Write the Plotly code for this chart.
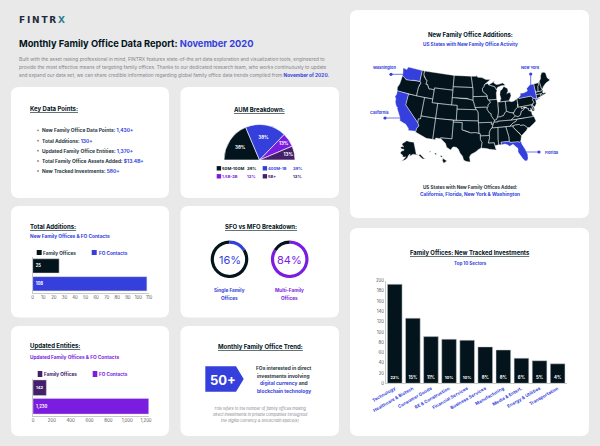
import math
import plotly.graph_objects as go

W, H = 600, 446
DARK = "#03141c"; BLUE = "#343fdc"; PURPLE = "#7a1de0"; DPURPLE = "#44206a"; BG = "#e9e9e9"; GRAY = "#85858b"
FONT = "Inter"

new_states = ["CA","FL","NY","WA"]
state_lonlat = {
"WA":[(-124.7,48.4),(-123.1,48.2),(-122.8,49.0),(-117.03,49.0),(-117.04,46.0),(-118.98,46.0),(-119.3,45.93),(-120.5,45.7),(-121.2,45.65),(-122.3,45.55),(-122.8,45.9),(-123.4,46.2),(-124.0,46.27),(-124.1,46.9)],
"OR":[(-124.0,46.27),(-123.4,46.2),(-122.8,45.9),(-122.3,45.55),(-121.2,45.65),(-120.5,45.7),(-119.3,45.93),(-118.98,46.0),(-116.92,46.0),(-116.46,45.6),(-116.85,45.0),(-117.03,44.2),(-117.03,42.0),(-124.2,42.0),(-124.55,42.85),(-124.1,44.0),(-123.95,45.5)],
"CA":[(-124.2,42.0),(-120.0,42.0),(-120.0,39.0),(-114.63,35.0),(-114.14,34.3),(-114.72,33.4),(-114.72,32.72),(-117.12,32.53),(-117.3,33.1),(-118.4,33.75),(-118.5,34.03),(-119.2,34.15),(-120.6,34.55),(-120.65,35.15),(-121.9,36.6),(-122.5,37.5),(-122.5,37.8),(-123.0,38.0),(-123.75,39.0),(-123.85,39.8),(-124.4,40.4),(-124.1,41.0)],
"NV":[(-120,42),(-114.04,42),(-114.04,36.2),(-114.74,36.1),(-114.63,35.0),(-120,39)],
"ID":[(-117.03,49),(-116.05,49),(-116.05,48.0),(-115.7,47.45),(-114.7,46.7),(-114.35,46.65),(-114.5,45.55),(-113.9,45.65),(-113.45,44.95),(-113.0,44.45),(-112.3,44.55),(-111.5,44.55),(-111.05,44.48),(-111.05,42),(-117.03,42),(-117.03,44.2),(-116.85,45.0),(-116.46,45.6),(-116.92,46.0),(-117.04,46.4)],
"MT":[(-116.05,49),(-104.05,49),(-104.05,45),(-111.05,45),(-111.05,44.48),(-111.5,44.55),(-112.3,44.55),(-113.0,44.45),(-113.45,44.95),(-113.9,45.65),(-114.5,45.55),(-114.35,46.65),(-114.7,46.7),(-115.7,47.45),(-116.05,48.0)],
"WY":[(-111.05,45),(-104.05,45),(-104.05,41),(-111.05,41)],
"UT":[(-114.04,42),(-111.05,42),(-111.05,41),(-109.05,41),(-109.05,37),(-114.04,37)],
"CO":[(-109.05,41),(-102.05,41),(-102.05,37),(-109.05,37)],
"AZ":[(-114.04,37),(-109.05,37),(-109.05,31.33),(-111.07,31.33),(-114.81,32.5),(-114.72,32.72),(-114.72,33.4),(-114.14,34.3),(-114.63,35.0),(-114.74,36.1),(-114.04,36.2)],
"NM":[(-109.05,37),(-103.0,37),(-103.04,32),(-106.62,32),(-106.53,31.78),(-108.2,31.78),(-108.2,31.33),(-109.05,31.33)],
"ND":[(-104.05,49),(-97.23,49),(-96.85,47.5),(-96.56,45.94),(-104.05,45.94)],
"SD":[(-104.05,45.94),(-96.56,45.94),(-96.45,45.3),(-96.45,43.5),(-96.44,42.5),(-97.9,42.8),(-98.5,43.0),(-104.05,43)],
"NE":[(-104.05,43),(-98.5,43),(-97.9,42.8),(-96.44,42.5),(-96.1,41.7),(-95.85,40.7),(-95.31,40),(-102.05,40),(-102.05,41),(-104.05,41)],
"KS":[(-102.05,40),(-95.31,40),(-94.9,39.75),(-94.61,39.1),(-94.62,37),(-102.05,37)],
"OK":[(-103,37),(-94.62,37),(-94.43,35.4),(-94.48,33.64),(-95.5,33.9),(-97.1,33.8),(-98.1,34.13),(-99.2,34.3),(-100,34.56),(-100,36.5),(-103,36.5)],
"TX":[(-106.62,32),(-103.04,32),(-103,36.5),(-100,36.5),(-100,34.56),(-99.2,34.3),(-98.1,34.13),(-97.1,33.8),(-95.5,33.9),(-94.48,33.64),(-94.04,33.55),(-94.04,33.0),(-94.04,32.0),(-93.55,31.2),(-93.7,30.3),(-93.85,29.7),(-94.7,29.35),(-95.6,28.7),(-97.0,28.0),(-97.4,27.3),(-97.15,25.96),(-98.2,26.05),(-99.1,26.4),(-99.5,27.5),(-100.3,28.3),(-100.8,29.25),(-101.4,29.77),(-102.3,29.88),(-102.7,29.7),(-103.15,28.98),(-104.5,29.65),(-104.9,30.6),(-106.53,31.78)],
"MN":[(-97.23,49),(-95.15,49),(-95.15,49.38),(-94.6,48.72),(-92.9,48.6),(-91.4,48.05),(-89.6,48.0),(-92.0,46.7),(-92.3,46.1),(-92.9,45.6),(-92.75,44.75),(-91.25,43.85),(-91.22,43.5),(-96.45,43.5),(-96.45,45.3),(-96.56,45.94),(-96.85,47.5)],
"IA":[(-96.45,43.5),(-91.22,43.5),(-91.1,42.7),(-90.65,42.5),(-90.15,41.8),(-91.1,41.2),(-91.1,40.7),(-91.42,40.38),(-91.73,40.61),(-95.77,40.58),(-96.1,41.7),(-96.44,42.5)],
"MO":[(-95.77,40.58),(-91.73,40.61),(-91.42,40.38),(-91.5,40.0),(-90.7,39.0),(-90.15,38.8),(-90.2,38.3),(-89.5,37.3),(-89.15,37.0),(-89.4,36.5),(-89.7,36.0),(-90.37,36.0),(-90.15,36.5),(-94.62,36.5),(-94.62,37),(-94.61,39.1),(-94.9,39.75),(-95.31,40)],
"AR":[(-94.62,36.5),(-90.15,36.5),(-90.37,36.0),(-89.7,36.0),(-90.1,35.1),(-90.6,34.7),(-91.1,33.9),(-91.17,33.0),(-94.04,33.0),(-94.04,33.55),(-94.48,33.64),(-94.43,35.4)],
"LA":[(-94.04,33.0),(-91.17,33.0),(-91.1,32.4),(-91.6,31.0),(-89.73,31.0),(-89.6,30.18),(-89.4,30.05),(-89.4,29.3),(-89.1,29.0),(-90.2,29.1),(-91.3,29.3),(-92.2,29.55),(-93.85,29.7),(-93.7,30.3),(-93.55,31.2),(-94.04,32.0)],
"WI":[(-92.0,46.7),(-90.9,46.95),(-90.4,46.55),(-89.1,46.13),(-88.1,45.9),(-87.6,45.1),(-87.4,44.9),(-87.75,44.2),(-87.8,42.5),(-90.65,42.5),(-91.1,42.7),(-91.22,43.5),(-91.25,43.85),(-92.75,44.75),(-92.9,45.6),(-92.3,46.1)],
"IL":[(-90.65,42.5),(-87.8,42.5),(-87.53,41.7),(-87.53,39.35),(-87.6,38.7),(-88.05,37.8),(-88.45,37.15),(-89.15,37.0),(-89.5,37.3),(-90.2,38.3),(-90.15,38.8),(-90.7,39.0),(-91.5,40.0),(-91.42,40.38),(-91.1,40.7),(-91.1,41.2),(-90.15,41.8)],
"IN":[(-87.53,41.7),(-87.2,41.76),(-86.8,41.76),(-84.8,41.76),(-84.8,39.1),(-85.4,38.7),(-86.0,38.0),(-86.5,37.95),(-87.1,37.8),(-88.05,37.8),(-87.6,38.7),(-87.53,39.35)],
"MI":[(-86.8,41.76),(-84.8,41.76),(-83.45,41.73),(-83.1,42.2),(-82.45,43.0),(-82.6,43.9),(-83.4,43.95),(-83.9,43.7),(-83.3,44.4),(-83.4,45.1),(-84.7,45.78),(-85.5,45.0),(-86.2,44.7),(-86.5,43.7),(-86.25,42.6)],
"MIU":[(-90.4,46.55),(-89.1,46.13),(-88.1,45.9),(-87.6,45.1),(-87.0,45.75),(-85.6,46.05),(-84.7,45.95),(-84.0,46.0),(-84.6,46.5),(-85.0,46.75),(-86.5,46.5),(-87.5,46.5),(-88.4,47.0),(-88.0,47.45),(-89.5,46.85)],
"OH":[(-84.8,41.76),(-83.45,41.73),(-82.7,41.45),(-81.7,41.5),(-80.52,41.98),(-80.52,40.64),(-80.85,39.7),(-81.7,39.2),(-82.2,38.6),(-82.6,38.45),(-83.7,38.65),(-84.8,39.1)],
"KY":[(-89.4,36.5),(-88.05,36.5),(-88.05,36.68),(-83.67,36.6),(-81.97,37.54),(-82.6,38.17),(-82.6,38.45),(-83.7,38.65),(-84.8,39.1),(-85.4,38.7),(-86.0,38.0),(-86.5,37.95),(-87.1,37.8),(-88.05,37.8),(-88.45,37.15),(-89.15,37.0)],
"TN":[(-89.7,36.0),(-89.4,36.5),(-88.05,36.5),(-88.05,36.68),(-83.67,36.6),(-81.68,36.59),(-82.0,36.1),(-83.1,35.75),(-84.32,35.0),(-90.1,35.0)],
"MS":[(-90.1,35.0),(-88.2,35.0),(-88.47,31.9),(-88.4,30.35),(-89.6,30.18),(-89.73,31.0),(-91.6,31.0),(-91.1,32.4),(-91.17,33.0),(-91.1,33.9),(-90.6,34.7)],
"AL":[(-88.2,35),(-85.6,35),(-85.0,32.3),(-85.0,31.0),(-87.6,31.0),(-87.5,30.3),(-88.4,30.35),(-88.47,31.9)],
"GA":[(-85.6,35),(-83.1,35),(-83.35,34.7),(-81.4,32.7),(-81.0,32.05),(-81.45,30.7),(-82.05,30.35),(-82.2,30.57),(-84.86,30.7),(-85.0,31.0),(-85.0,32.3)],
"FL":[(-87.6,31.0),(-85.0,31.0),(-84.86,30.7),(-82.2,30.57),(-82.05,30.35),(-81.45,30.7),(-81.25,29.8),(-80.55,28.4),(-80.03,26.8),(-80.15,25.7),(-80.45,25.2),(-81.1,25.15),(-81.75,26.0),(-82.2,26.9),(-82.8,27.85),(-82.65,28.8),(-83.4,29.5),(-84.0,30.1),(-85.1,29.65),(-85.7,30.15),(-86.4,30.4),(-87.5,30.3)],
"SC":[(-83.35,34.7),(-83.1,35),(-82.3,35.2),(-81.05,35.1),(-80.8,34.82),(-79.67,34.8),(-78.55,33.86),(-79.2,33.2),(-81.0,32.05),(-81.4,32.7)],
"NC":[(-84.32,35.0),(-83.1,35.75),(-82.0,36.1),(-81.68,36.59),(-75.87,36.55),(-75.5,35.25),(-76.5,34.65),(-77.9,33.9),(-78.55,33.86),(-79.67,34.8),(-80.8,34.82),(-81.05,35.1),(-82.3,35.2),(-83.1,35)],
"VA":[(-83.67,36.6),(-81.68,36.59),(-75.87,36.55),(-76.3,37.0),(-76.3,37.9),(-77.0,38.3),(-77.3,38.5),(-77.05,38.85),(-77.5,39.1),(-77.83,39.13),(-78.35,39.4),(-78.87,38.77),(-79.65,38.58),(-80.3,37.5),(-81.2,37.25),(-81.97,37.54)],
"WV":[(-81.97,37.54),(-81.2,37.25),(-80.3,37.5),(-79.65,38.58),(-78.87,38.77),(-78.35,39.4),(-77.83,39.13),(-77.72,39.32),(-79.48,39.2),(-79.48,39.72),(-80.52,39.72),(-80.52,40.64),(-80.85,39.7),(-81.7,39.2),(-82.2,38.6),(-82.6,38.17)],
"PA":[(-80.52,41.98),(-79.76,42.27),(-79.76,42.0),(-75.35,42.0),(-74.7,41.35),(-75.1,40.95),(-74.75,40.2),(-75.42,39.8),(-75.79,39.72),(-80.52,39.72)],
"NY":[(-79.76,42.27),(-79.05,42.7),(-79.05,43.27),(-77.5,43.25),(-76.2,43.55),(-76.3,44.2),(-75.0,44.95),(-74.7,45.0),(-73.35,45.0),(-73.4,43.6),(-73.25,42.75),(-73.5,42.05),(-73.5,41.3),(-73.65,41.0),(-72.0,41.05),(-73.9,40.55),(-74.0,40.7),(-73.9,41.0),(-74.7,41.35),(-75.35,42.0),(-79.76,42.0)],
"NJ":[(-74.7,41.35),(-73.9,41.0),(-74.0,40.5),(-74.1,39.7),(-74.9,38.95),(-75.5,39.5),(-75.42,39.8),(-74.75,40.2),(-75.1,40.95)],
"DE":[(-75.79,39.72),(-75.42,39.8),(-75.5,39.5),(-75.05,38.45),(-75.7,38.45)],
"MD":[(-79.48,39.72),(-75.79,39.72),(-75.7,38.45),(-75.05,38.45),(-75.25,38.03),(-75.9,37.95),(-76.3,38.9),(-76.45,38.3),(-77.0,38.3),(-77.3,38.5),(-77.05,38.85),(-77.5,39.1),(-77.83,39.13),(-78.35,39.4),(-79.48,39.2)],
"CT":[(-73.5,42.05),(-71.8,42.02),(-71.85,41.32),(-73.65,41.0),(-73.5,41.3)],
"RI":[(-71.8,42.02),(-71.38,42.02),(-71.15,41.5),(-71.85,41.32)],
"MA":[(-73.5,42.05),(-73.25,42.75),(-71.3,42.7),(-70.8,42.85),(-70.6,42.6),(-71.0,42.3),(-70.6,41.95),(-70.0,42.05),(-69.95,41.7),(-71.15,41.5),(-71.38,42.02)],
"VT":[(-73.35,45),(-71.5,45),(-71.55,44.55),(-72.05,44.1),(-72.45,42.73),(-73.25,42.75),(-73.4,43.6)],
"NH":[(-71.5,45.0),(-71.08,45.3),(-70.98,43.4),(-70.7,43.07),(-70.8,42.85),(-71.3,42.7),(-72.45,42.73),(-72.05,44.1),(-71.55,44.55)],
"ME":[(-71.08,45.3),(-70.3,45.9),(-70.0,46.7),(-69.2,47.45),(-68.3,47.35),(-67.8,47.05),(-67.8,45.7),(-67.0,44.85),(-68.8,44.4),(-70.0,43.75),(-70.7,43.07),(-70.98,43.4)],
}
alaska_lonlat = [(-141,69.65),(-141,60.3),(-139.5,59.8),(-137.5,58.9),(-135.5,59.7),(-134,58.1),(-132,56.0),(-130.0,55.0),(-131.5,55.0),(-133.5,55.5),(-135.5,57.0),(-136.5,58.2),(-139.5,59.5),(-143,60.0),(-146,60.7),(-148.5,60.0),(-151.5,59.3),(-150.3,61.0),(-152.5,60.3),(-154,59.0),(-154.5,58.1),(-157,56.7),(-160,55.6),(-163.5,54.7),(-161,56.0),(-158,57.7),(-157,58.8),(-159,58.6),(-162,58.7),(-162,60.0),(-165,60.5),(-166,61.7),(-164.5,63.0),(-161,63.5),(-161,64.5),(-165,64.5),(-168,65.6),(-164,66.5),(-162,66.2),(-163.5,67.1),(-166.5,68.3),(-163,69.5),(-156.5,71.3),(-150,70.5),(-145,70.0)]
hawaii_lonlat = [
    [(-155.9,20.25),(-155.0,19.8),(-154.8,19.5),(-155.7,18.95),(-156.05,19.7)],
    [(-156.7,20.95),(-156.25,20.95),(-156.0,20.7),(-156.4,20.58)],
    [(-158.3,21.55),(-157.95,21.7),(-157.65,21.3),(-158.1,21.3)],
    [(-159.8,22.1),(-159.4,22.2),(-159.35,21.95),(-159.6,21.9)],
]

aum_labels = ["50M-100M","400M-1B","1.5B-2B","5B+"]
aum_values = [38,38,13,13]
aum_hidden = 102
sfo_values = [16,84]
mfo_values = [84,16]

add_names = ["Family Offices","FO Contacts"]
add_values = [25,108]
upd_names = ["Family Offices","FO Contacts"]
upd_values = [142,1230]
upd_labels = ["142","1,230"]

sectors = ["Technology","Healthcare & Biotech","Consumer Goods","RE & Construction","Financial Services","Business Services","Manufacturing","Media & Entert.","Energy & Utilities","Transportation"]
sector_values = [193,127,91,86,84,71,65,49,44,38]
sector_pct = ["23%","15%","11%","10%","10%","8%","8%","6%","5%","4%"]

def px(x): return x / W
def py(y): return 1 - y / H

# Albers conic projection (same composite arrangement as the usual US map)
def albers(pts, lam0, clon, clat, p1, p2, scale=1.0, dx=0.0, dy=0.0):
    r = math.radians
    n = (math.sin(r(p1)) + math.sin(r(p2))) / 2
    c = math.cos(r(p1))**2 + 2*n*math.sin(r(p1))
    rho0 = math.sqrt(c - 2*n*math.sin(r(clat))) / n
    def one(lon, lat):
        rho = math.sqrt(c - 2*n*math.sin(r(lat))) / n
        th = n * r(lon - lam0)
        return rho*math.sin(th), rho0 - rho*math.cos(th)
    cx = one(clon, clat)[0]
    out = []
    for lon, lat in pts:
        x, y = one(lon, lat)
        out.append(((x-cx)*scale+dx, y*scale+dy))
    return out

def proj48(pts): return albers(pts, -96, -96.6, 38.7, 29.5, 45.5)
def projAK(pts): return albers(pts, -154, -156, 58.5, 55, 65, 0.35, -0.307, -0.201)
def projHI(pts): return albers(pts, -157, -160, 19.9, 8, 18, 1.0, -0.205, -0.212)

def flat(polys):
    xs, ys = [], []
    for p in polys:
        for x, y in p + p[:1]:
            xs.append(x); ys.append(y)
        xs.append(None); ys.append(None)
    return xs, ys

shapes, anns = [], []

def card(x0, y0, x1, y1, r=8):
    p = f"M{px(x0+r)},{py(y0)} L{px(x1-r)},{py(y0)} Q{px(x1)},{py(y0)} {px(x1)},{py(y0+r)} L{px(x1)},{py(y1-r)} Q{px(x1)},{py(y1)} {px(x1-r)},{py(y1)} L{px(x0+r)},{py(y1)} Q{px(x0)},{py(y1)} {px(x0)},{py(y1-r)} L{px(x0)},{py(y0+r)} Q{px(x0)},{py(y0)} {px(x0+r)},{py(y0)} Z"
    shapes.append(dict(type="path", path=p, xref="paper", yref="paper", fillcolor="white", line_width=0, layer="below"))

def rect(x0, y0, x1, y1, color):
    shapes.append(dict(type="rect", xref="paper", yref="paper", x0=px(x0), x1=px(x1), y0=py(y0), y1=py(y1), fillcolor=color, line_width=0))

def dot(x, y, r, color):
    shapes.append(dict(type="circle", xref="paper", yref="paper", x0=px(x-r), x1=px(x+r), y0=py(y-r), y1=py(y+r), fillcolor=color, line_width=0))

def line(x0, y0, x1, y1, color, w=0.6):
    shapes.append(dict(type="line", xref="paper", yref="paper", x0=px(x0), x1=px(x1), y0=py(y0), y1=py(y1), line=dict(color=color, width=w)))

def text(x, y, s, size=5, color=DARK, anchor="left", family=FONT):
    anns.append(dict(x=px(x), y=py(y), xref="paper", yref="paper", text=s, showarrow=False, xanchor=anchor, yanchor="middle",
                     font=dict(size=size, color=color, family=family), align=anchor,
                     borderpad=0, borderwidth=0))

for c in [(11,87,169,198),(180.5,87,339,198),(11,206,169,317.5),(180.5,206,339,317.5),(11,326,169,436),(180.5,326,339,436),(350,10,589,218),(350,228,589,436)]:
    card(*c)

# Header
text(19, 20.5, "<b>F\u2009I\u2009N\u2009T\u2009R\u2009<span style='color:#2f7f8f'>X</span></b>", 9, "#1d2c3a", family="DejaVu Sans")
text(19, 44, f"<b>Monthly Family Office Data Report: <span style='color:{BLUE}'>November 2020</span></b>", 9.3)
for y, s in zip([59.3,67,75.2], [
    "Built with the asset raising professional in mind, FINTRX features state-of-the art data exploration and visualization tools, engineered to",
    "provide the most effective means of targeting family offices. Thanks to our dedicated research team, who works continuously to update",
    f"and expand our data set, we can share credible information regarding global family office data trends compiled from <b><span style='color:{BLUE}'>November of 2020.</span></b>"]):
    text(19, y, s, 4.8, GRAY)

# Key data points
text(29.5, 108.7, "<b><u>Key Data Points:</u></b>", 6)
kp = [("New Family Office Data Points:","1,430+"),("Total Additions:","130+"),("Updated Family Office Entities:","1,370+"),("Total Family Office Assets Added:","$13.4B+"),("New Tracked Investments:","580+")]
for y, (a, b) in zip([130.3,140.7,150.7,161,171], kp):
    dot(38, y, 0.9, GRAY)
    text(42, y, f"<b>{a} <span style='color:{BLUE}'>{b}</span></b>", 4.9, "#2c3a44")

# AUM
text(259.5, 109, "<b><u>AUM Breakdown:</u></b>", 6, anchor="center")
for (x, y, lab, val, col, tc) in [(216.7,168.3,aum_labels[0],aum_values[0],DARK,DARK),(262.7,168.3,aum_labels[1],aum_values[1],BLUE,BLUE),
                                  (216.7,176.3,aum_labels[2],aum_values[2],PURPLE,PURPLE),(262.7,176.3,aum_labels[3],aum_values[3],DPURPLE,DPURPLE)]:
    rect(x, y-2.2, x+4.4, y+2.2, col)
    text(x+5.6, y, f"<b>{lab}</b>", 4.1, tc)
    text(x+30.2, y, f"<b>{val}%</b>", 4.1, tc)

# Total additions labels
text(29.5, 226, "<b><u>Total Additions:</u></b>", 6)
text(29.5, 236, "<b>New Family Offices &amp; FO Contacts</b>", 4.8, BLUE)
rect(36.7, 250, 41.7, 255, DARK); text(43, 252.7, "<b>Family Offices</b>", 4.7, "#2c3a44")
rect(91.7, 250, 96.7, 255, BLUE); text(98.5, 252.5, "<b>FO Contacts</b>", 4.7, BLUE)

# SFO/MFO
text(261, 226, "<b><u>SFO vs MFO Breakdown:</u></b>", 6, anchor="center")
text(229.5, 259.5, "16%", 11, BLUE, "center")
text(289.7, 259.5, "84%", 11, PURPLE, "center")
text(229.5, 290, "<b>Single Family</b>", 4.7, BLUE, "center"); text(229.5, 298, "<b>Offices</b>", 4.7, BLUE, "center")
text(289.7, 290, "<b>Multi-Family</b>", 4.7, PURPLE, "center"); text(289.7, 298, "<b>Offices</b>", 4.7, PURPLE, "center")

# Updated
text(29.5, 346, "<b><u>Updated Entities:</u></b>", 6)
text(29.5, 356.5, "<b>Updated Family Offices &amp; FO Contacts</b>", 4.8, PURPLE)
rect(37.7, 371, 42.3, 377, DPURPLE); text(44, 374, "<b>Family Offices</b>", 4.7, DPURPLE)
rect(92.7, 371, 97.3, 377, PURPLE); text(99, 374, "<b>FO Contacts</b>", 4.7, PURPLE)

# Trend
text(260, 346, "<b><u>Monthly Family Office Trend:</u></b>", 6, anchor="center")
a = dict(x0=205.3, x1=236, tip=243.7, y0=366.3, y1=391.7)
shapes.append(dict(type="path", xref="paper", yref="paper", fillcolor=BLUE, line_width=0,
    path=f"M{px(a['x0'])},{py(a['y0'])} L{px(a['x1'])},{py(a['y0'])} L{px(a['tip'])},{py((a['y0']+a['y1'])/2)} L{px(a['x1'])},{py(a['y1'])} L{px(a['x0'])},{py(a['y1'])} Z"))
text(223, 379.7, "<b>50+</b>", 13, "white", "center")
for y, s in zip([368,375.7,383.3,391], ["<b>FOs interested in direct</b>","<b>investments involving</b>",f"<b><span style='color:{BLUE}'>digital currency</span> and</b>",f"<b><span style='color:{BLUE}'>blockchain technology</span></b>"]):
    text(283.5, y, s, 4.9, "#2c3a44", "center")
for y, s in zip([408.7,414.7,420.7], ["This refers to the number of family offices making","direct investments in private companies throughout","the digital currency &amp; blockchain space(s)"]):
    text(260, y, f"<i>{s}</i>", 3.9, GRAY, "center")

# Map texts
text(470, 34.3, "<b>New Family Office Additions:</b>", 6, anchor="center")
text(470, 44.3, "<b>US States with New Family Office Activity</b>", 4.7, BLUE, "center")
text(470, 186.7, "<b>US States with New Family Offices Added:</b>", 4.6, "#2c3a44", "center")
text(469.5, 194, "<b>California, Florida, New York &amp; Washington</b>", 4.8, BLUE, "center")
for (x, y, s) in [(384,67.3,"Washington"),(530.7,67.3,"New York"),(379,112,"California"),(551.5,152,"Florida")]:
    text(x, y, f"<b>{s}</b>", 3.9, BLUE, "center")
for (x0,y0,x1,y1) in [(391,74.3,405,74.3),(530.7,74,530.7,86),(385,118,405,118),(539,152,525,152)]:
    line(x0,y0,x1,y1,BLUE,0.7); dot(x0,y0,1.6,BLUE)

# Investments
text(469.5, 252.3, "<b><u>Family Offices: New Tracked Investments</u></b>", 5.9, anchor="center")
text(470, 263.5, "<b>Top 10 Sectors</b>", 4.5, BLUE, "center")

fig = go.Figure()

# half pie
hl = dict(color="white", width=[0.6,0.6,0.6,0.6,0])
fig.add_trace(go.Pie(values=aum_values+[aum_hidden], labels=aum_labels+["hidden"], sort=False, direction="clockwise", rotation=270,
    marker=dict(colors=[DARK,BLUE,PURPLE,DPURPLE,"rgba(0,0,0,0)"], line=hl), textinfo="text",
    text=[f"<b>{v}%</b>" for v in aum_values]+[""], textposition="inside", insidetextorientation="horizontal",
    insidetextfont=dict(size=4.5, color="white", family=FONT), hoverinfo="skip", showlegend=False,
    domain=dict(x=[px(224),px(295)], y=[py(195.5),py(124.5)])))

# donuts
for vals, cols, cx in [(sfo_values,[BLUE,DARK],229.5),(mfo_values,[PURPLE,DARK],289.7)]:
    fig.add_trace(go.Pie(values=vals, sort=False, direction="clockwise", rotation=0, hole=0.83,
        marker=dict(colors=cols), textinfo="none", hoverinfo="skip", showlegend=False,
        domain=dict(x=[px(cx-18.8),px(cx+18.8)], y=[py(259.3+18.8),py(259.3-18.8)])))

# map (drawn as filled polygons because the page has no network for geo assets)
dark_polys = [proj48(p) for k, p in state_lonlat.items() if k not in new_states]
blue_polys = [proj48(state_lonlat[k]) for k in new_states]
dark_polys += [projAK(alaska_lonlat)] + [projHI(p) for p in hawaii_lonlat]
for polys, col in [(dark_polys, DARK), (blue_polys, BLUE)]:
    xs, ys = flat(polys)
    fig.add_trace(go.Scatter(x=xs, y=ys, mode="lines", fill="toself", fillcolor=col, line=dict(color="white", width=0.4),
                             xaxis="x4", yaxis="y4", hoverinfo="skip", showlegend=False))
# axes ranges: contiguous states bbox -> target pixel box, extended to the drawing area
all48 = [pt for p in state_lonlat.values() for pt in proj48(p)]
mnx, mxx = min(p[0] for p in all48), max(p[0] for p in all48)
mny, mxy = min(p[1] for p in all48), max(p[1] for p in all48)
BX0, BX1, BY0, BY1 = 395.0, 550.0, 67.0, 162.0     # target pixels of the contiguous states
DX0, DX1, DY0, DY1 = 385.0, 560.0, 60.0, 172.0     # axes domain in pixels
sx = (mxx-mnx)/(BX1-BX0); sy = (mxy-mny)/(BY1-BY0)
x4_range = [mnx-(BX0-DX0)*sx, mxx+(DX1-BX1)*sx]
y4_range = [mny-(DY1-BY1)*sy, mxy+(BY0-DY0)*sy]

axis_font = dict(size=4.3, color="#555", family=FONT)
# total additions
fig.add_trace(go.Bar(x=add_values, y=add_names, orientation="h", marker=dict(color=[DARK,BLUE], line=dict(color="#dcdcdc", width=0.5)),
    text=[f"<b>{v}</b>" for v in add_values], textposition="inside", insidetextanchor="start", textangle=0,
    insidetextfont=dict(size=4.2, color="white", family=FONT), xaxis="x", yaxis="y", width=0.8, hoverinfo="skip", showlegend=False))
# updated
fig.add_trace(go.Bar(x=upd_values, y=upd_names, orientation="h", marker=dict(color=[DPURPLE,PURPLE], line=dict(color="#dcdcdc", width=0.5)),
    text=[f"<b>{v}</b>" for v in upd_labels], textposition="inside", insidetextanchor="start", textangle=0,
    insidetextfont=dict(size=4.2, color="white", family=FONT), xaxis="x2", yaxis="y2", width=0.85, hoverinfo="skip", showlegend=False))
# sectors
fig.add_trace(go.Bar(x=sectors, y=sector_values, marker=dict(color=DARK, line=dict(color="#cfd3d6", width=0.5)),
    text=[f"<b>{v}</b>" for v in sector_pct], textposition="inside", insidetextanchor="start", textangle=0,
    insidetextfont=dict(size=4.3, color="white", family=FONT), xaxis="x3", yaxis="y3", width=0.81, hoverinfo="skip", showlegend=False))

def haxis(x0, x1, rng, dtick, anchor, fmt=None):
    d = dict(domain=[px(x0),px(x1)], range=rng, dtick=dtick, tick0=0, anchor=anchor, showgrid=False, zeroline=False, automargin=False,
             showline=True, linecolor="#c8c8c8", linewidth=0.7, ticks="", tickfont=axis_font, fixedrange=True)
    if fmt: d["tickformat"] = fmt
    return d

layout = dict(
    template="none",
    width=W, height=H, margin=dict(l=0,r=0,t=0,b=0,pad=0), paper_bgcolor=BG, plot_bgcolor="rgba(0,0,0,0)",
    shapes=shapes, annotations=anns, showlegend=False, font=dict(family=FONT),
    xaxis=haxis(32.7,149,[0,110],10,"y"),
    yaxis=dict(domain=[py(292.7),py(257)], autorange="reversed", showticklabels=False, showgrid=False, zeroline=False, automargin=False, showline=True, linecolor="#c8c8c8", linewidth=0.7, anchor="x", ticks=""),
    xaxis2=haxis(33,148.7,[0,1228],200,"y2",","),
    yaxis2=dict(domain=[py(415.5),py(378.5)], autorange="reversed", showticklabels=False, showgrid=False, zeroline=False, automargin=False, showline=True, linecolor="#c8c8c8", linewidth=0.7, anchor="x2", ticks=""),
    xaxis3=dict(domain=[px(385.7),px(566.7)], anchor="y3", tickangle=-30, tickmode="array", tickvals=sectors, ticktext=[f"<b>{s}</b>" for s in sectors],
                tickfont=dict(size=4.5, color=BLUE, family=FONT), showgrid=False, zeroline=False, automargin=False,
                showline=True, linecolor="#c8c8c8", linewidth=0.7, ticks=""),
    yaxis3=dict(domain=[py(383.3),py(280.7)], range=[0,200], dtick=20, tickfont=axis_font, showgrid=False, zeroline=False, automargin=False, showline=True,
                linecolor="#c8c8c8", linewidth=0.7, anchor="x3", ticks=""),
    xaxis4=dict(domain=[px(DX0),px(DX1)], range=x4_range, visible=False, anchor="y4", automargin=False),
    yaxis4=dict(domain=[py(DY1),py(DY0)], range=y4_range, visible=False, anchor="x4", automargin=False),
)
fig.update_layout(**layout)
fig.write_html("out.html", post_script="document.body.style.margin='0';document.body.style.overflow='hidden';", config=dict(displayModeBar=False))
